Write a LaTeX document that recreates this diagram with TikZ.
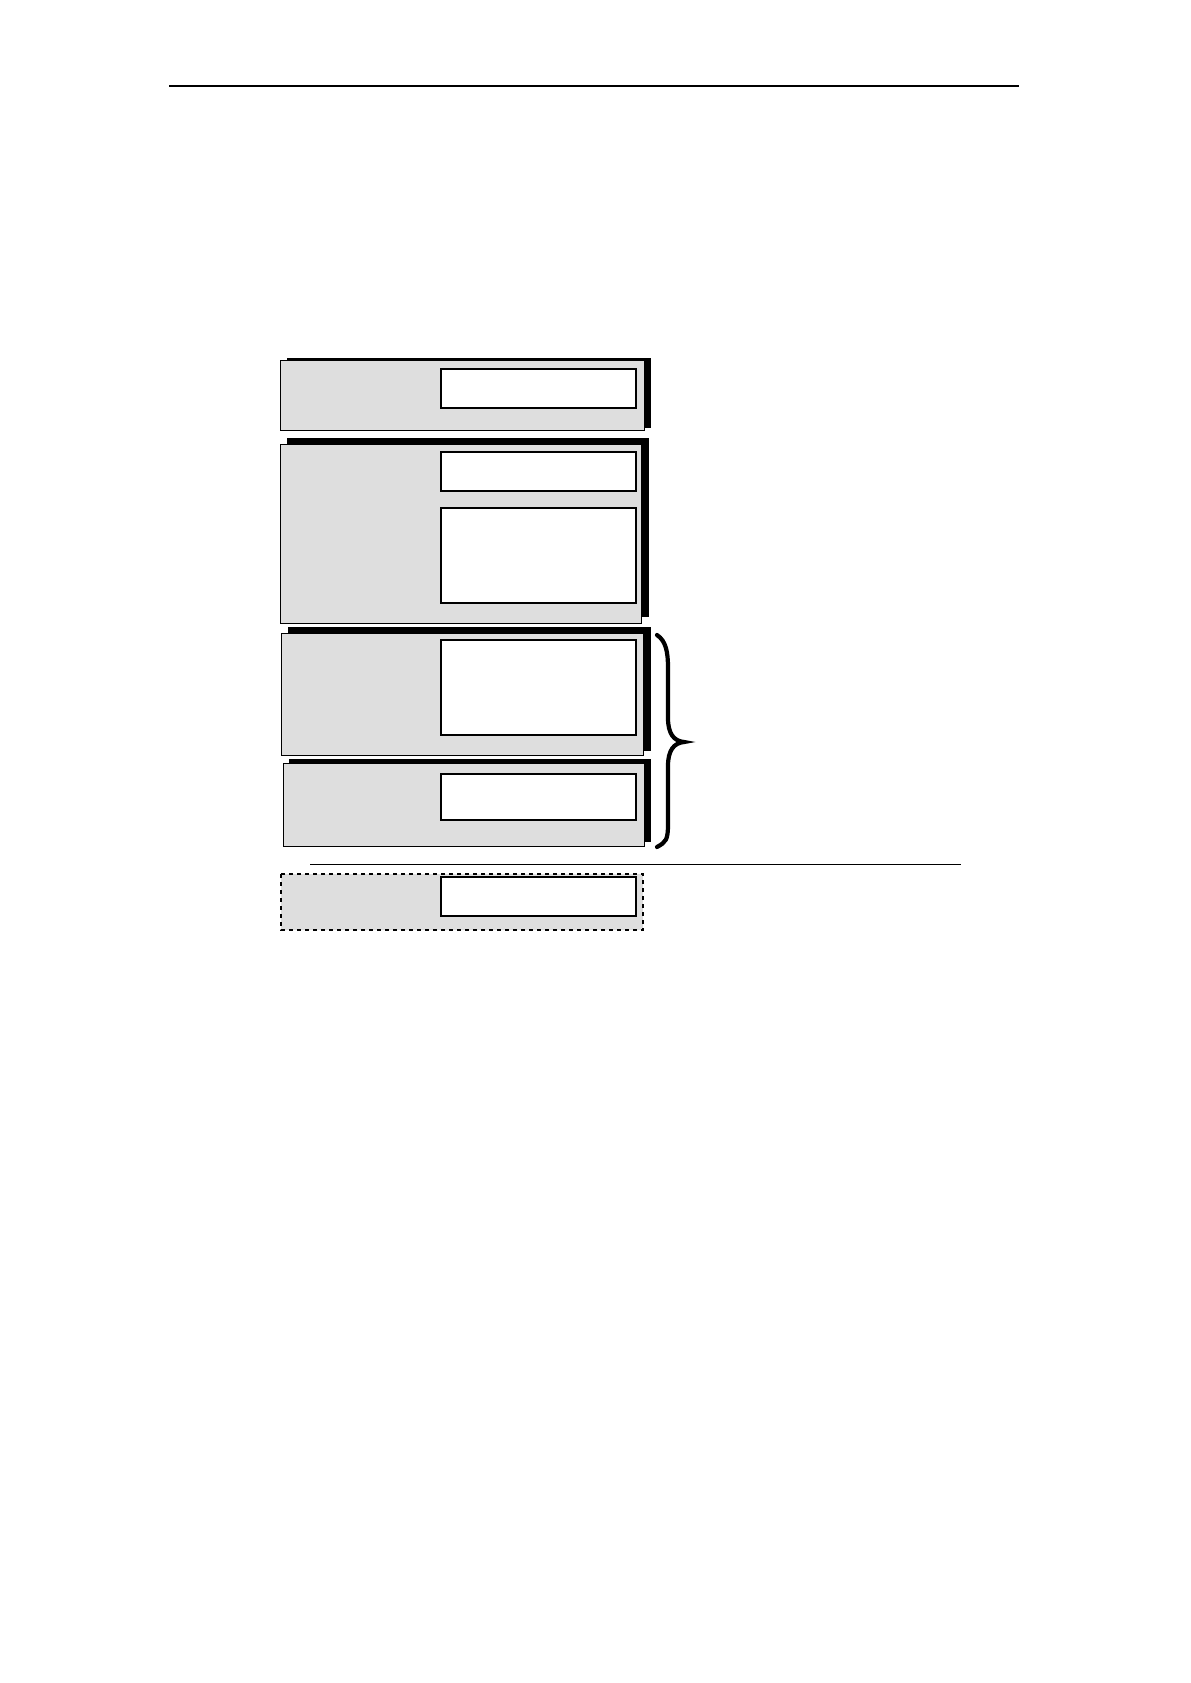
\documentclass[tikz,border=0pt]{standalone}
\usepackage{tikz}
\usetikzlibrary{positioning}
\definecolor{panelgray}{gray}{0.87}

\begin{document}
\begin{tikzpicture}[x=0.5pt,y=-0.5pt]
\tikzstyle{shadow}=[fill=black]
\tikzstyle{panel}=[draw=black, line width=0.4pt, fill=panelgray]
\tikzstyle{dpanel}=[draw=black, line width=0.8pt, fill=panelgray, dash pattern=on 2pt off 2pt]
\tikzstyle{field}=[draw=black, line width=0.8pt, fill=white]
\tikzstyle{rule}=[line width=0.6pt]
\tikzstyle{brace}=[line width=2.1pt, line cap=round]
  \useasboundingbox (0,0) rectangle (1190,1683);
  \draw[rule] (169,86) coordinate (h1) -- (1019,86) coordinate (h2);
  % panel 1
  \fill[shadow] (287,358) rectangle (651,428);
  \draw[panel] (280,360) coordinate (p1) rectangle (644,430);
  \draw[field] (441,369) coordinate (f1) rectangle (636,408);
  % panel 2
  \fill[shadow] (287,438) rectangle (649,617);
  \draw[panel] (280,444) coordinate (p2) rectangle (641,623);
  \draw[field] (441,452) coordinate (f2) rectangle (636,491);
  \draw[field] (441,508) coordinate (f3) rectangle (636,603);
  % panel 3
  \fill[shadow] (288,627) rectangle (651,751);
  \draw[panel] (281,633) coordinate (p3) rectangle (643,755);
  \draw[field] (441,640) coordinate (f4) rectangle (636,735);
  % panel 4
  \fill[shadow] (289,759) rectangle (651,842);
  \draw[panel] (283,763) coordinate (p4) rectangle (644,846);
  \draw[field] (441,774) coordinate (f5) rectangle (636,820);
  % brace
  \coordinate (bt) at (657,635);
  \coordinate (bm) at (684,742);
  \coordinate (bb) at (657,847);
  \draw[brace] (bt) .. controls (666,641) and (668,652) .. (668,668)
     -- (668,718) .. controls (668,734) and (674,741) .. (bm)
     .. controls (674,743) and (668,750) .. (668,766)
     -- (668,824) .. controls (668,840) and (666,842) .. (bb);
  \draw[line width=0.5pt] (310,864) coordinate (s1) -- (961,864) coordinate (s2);
  % optional panel
  \draw[dpanel] (281,874) coordinate (p5) rectangle (643,930);
  \draw[field] (441,877) coordinate (f6) rectangle (636,916);
\end{tikzpicture}
\end{document}
